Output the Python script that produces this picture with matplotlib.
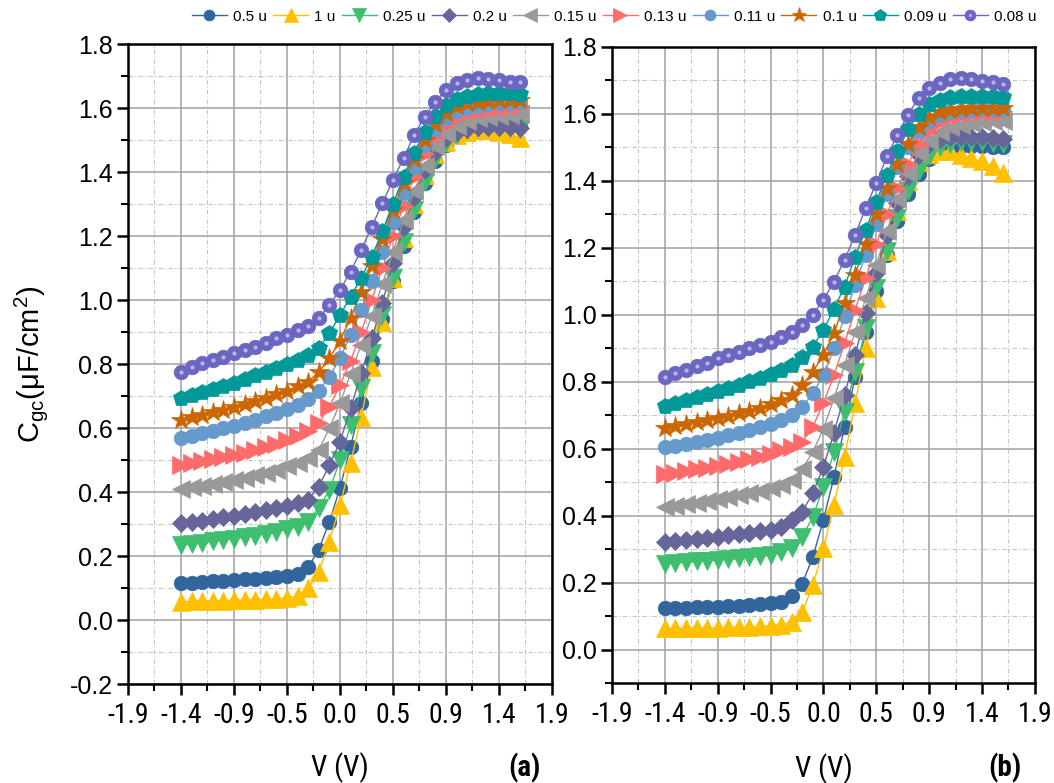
import matplotlib
matplotlib.use("Agg")
import matplotlib.pyplot as plt
from matplotlib import font_manager as fm
from matplotlib.ticker import FixedLocator, MultipleLocator, FormatStrFormatter
from matplotlib.legend_handler import HandlerTuple

# Gate voltage sweep (V)
V = [-1.425, -1.330, -1.235, -1.140, -1.045, -0.950, -0.855, -0.760, -0.665,
     -0.570, -0.475, -0.380, -0.285, -0.190, -0.095, 0.000, 0.095, 0.190,
     0.285, 0.380, 0.475, 0.570, 0.665, 0.760, 0.855, 0.950, 1.045, 1.140,
     1.235, 1.330, 1.425, 1.520, 1.615]

labels = ["0.5 u", "1 u", "0.25 u", "0.2 u", "0.15 u", "0.13 u", "0.11 u",
          "0.1 u", "0.09 u", "0.08 u"]
colors = ["#31659c", "#ffc000", "#3dbf6f", "#66669a", "#999999", "#ff6b6b",
          "#6699cc", "#cc6600", "#009999", "#6b66c0"]
markers = ["o", "^", "v", "D", "<", ">", "o", "*", "p", "o"]
msizes = [10.5, 13, 13, 9.5, 13, 13, 10.5, 15, 12, 10.5]

# Panel (a): gate-to-channel capacitance (uF/cm^2)
a_05u = [0.115, 0.117, 0.119, 0.121, 0.123, 0.125, 0.127, 0.129, 0.131, 0.134, 0.137, 0.145, 0.165,
         0.220, 0.307, 0.412, 0.542, 0.677, 0.810, 0.940, 1.060, 1.170, 1.275, 1.365, 1.435, 1.485,
         1.515, 1.532, 1.542, 1.547, 1.549, 1.549, 1.547]
a_1u = [0.057, 0.058, 0.059, 0.060, 0.061, 0.062, 0.063, 0.064, 0.065, 0.067, 0.069, 0.075, 0.099,
        0.151, 0.245, 0.359, 0.490, 0.635, 0.792, 0.930, 1.070, 1.195, 1.300, 1.390, 1.455, 1.495,
        1.515, 1.525, 1.530, 1.530, 1.526, 1.520, 1.505]
a_025u = [0.234, 0.238, 0.242, 0.246, 0.250, 0.254, 0.259, 0.264, 0.270, 0.276, 0.283, 0.292, 0.307,
          0.349, 0.406, 0.500, 0.609, 0.724, 0.833, 0.953, 1.070, 1.180, 1.280, 1.370, 1.440, 1.490,
          1.515, 1.530, 1.538, 1.540, 1.540, 1.538, 1.535]
a_02u = [0.302, 0.306, 0.311, 0.316, 0.321, 0.326, 0.332, 0.338, 0.344, 0.350, 0.357, 0.365, 0.375,
         0.417, 0.484, 0.557, 0.661, 0.771, 0.880, 0.990, 1.115, 1.229, 1.323, 1.406, 1.464, 1.505,
         1.525, 1.535, 1.540, 1.542, 1.542, 1.540, 1.538]
a_015u = [0.410, 0.415, 0.420, 0.426, 0.432, 0.438, 0.445, 0.453, 0.461, 0.470, 0.480, 0.491, 0.505,
          0.531, 0.599, 0.677, 0.770, 0.860, 0.950, 1.050, 1.150, 1.250, 1.340, 1.420, 1.480, 1.520,
          1.545, 1.560, 1.568, 1.573, 1.576, 1.578, 1.580]
a_013u = [0.484, 0.490, 0.496, 0.502, 0.509, 0.516, 0.523, 0.531, 0.540, 0.550, 0.561, 0.574, 0.590,
          0.615, 0.667, 0.734, 0.810, 0.900, 1.000, 1.100, 1.200, 1.295, 1.385, 1.455, 1.510, 1.548,
          1.570, 1.583, 1.591, 1.597, 1.600, 1.603, 1.606]
a_011u = [0.568, 0.575, 0.583, 0.591, 0.599, 0.607, 0.616, 0.626, 0.636, 0.647, 0.659, 0.672, 0.690,
          0.717, 0.760, 0.818, 0.890, 0.970, 1.060, 1.150, 1.245, 1.335, 1.415, 1.485, 1.535, 1.570,
          1.590, 1.600, 1.607, 1.612, 1.615, 1.617, 1.618]
a_01u = [0.625, 0.633, 0.641, 0.649, 0.657, 0.665, 0.674, 0.684, 0.694, 0.705, 0.717, 0.730, 0.745,
         0.775, 0.818, 0.872, 0.945, 1.025, 1.105, 1.190, 1.280, 1.365, 1.440, 1.500, 1.550, 1.585,
         1.605, 1.615, 1.620, 1.622, 1.624, 1.625, 1.625]
a_009u = [0.693, 0.702, 0.712, 0.722, 0.732, 0.742, 0.753, 0.765, 0.776, 0.788, 0.800, 0.813, 0.828,
          0.850, 0.896, 0.953, 1.010, 1.070, 1.135, 1.215, 1.300, 1.385, 1.460, 1.525, 1.575, 1.608,
          1.628, 1.638, 1.645, 1.648, 1.648, 1.647, 1.645]
a_008u = [0.776, 0.792, 0.802, 0.812, 0.823, 0.833, 0.844, 0.854, 0.865, 0.880, 0.890, 0.906, 0.920,
          0.943, 0.984, 1.031, 1.089, 1.156, 1.229, 1.302, 1.375, 1.443, 1.516, 1.573, 1.620, 1.656,
          1.677, 1.688, 1.693, 1.690, 1.688, 1.682, 1.680]

# Panel (b)
b_05u = [0.123, 0.124, 0.125, 0.126, 0.127, 0.128, 0.129, 0.131, 0.133, 0.135, 0.138, 0.143, 0.160,
         0.197, 0.277, 0.387, 0.516, 0.666, 0.815, 0.950, 1.070, 1.180, 1.280, 1.360, 1.420, 1.465,
         1.490, 1.500, 1.505, 1.505, 1.505, 1.502, 1.500]
b_1u = [0.063, 0.063, 0.064, 0.064, 0.065, 0.065, 0.066, 0.067, 0.068, 0.069, 0.071, 0.074, 0.083,
        0.112, 0.192, 0.302, 0.432, 0.576, 0.736, 0.900, 1.050, 1.190, 1.310, 1.400, 1.455, 1.480,
        1.490, 1.488, 1.478, 1.468, 1.458, 1.443, 1.425]
b_025u = [0.257, 0.259, 0.261, 0.263, 0.265, 0.267, 0.269, 0.272, 0.275, 0.278, 0.282, 0.290, 0.302,
          0.337, 0.397, 0.486, 0.591, 0.711, 0.830, 0.960, 1.080, 1.190, 1.290, 1.370, 1.430, 1.475,
          1.500, 1.510, 1.515, 1.515, 1.515, 1.512, 1.510]
b_02u = [0.322, 0.325, 0.328, 0.331, 0.334, 0.337, 0.341, 0.345, 0.349, 0.353, 0.358, 0.367, 0.387,
         0.411, 0.468, 0.546, 0.648, 0.760, 0.880, 1.005, 1.124, 1.239, 1.335, 1.415, 1.478, 1.510,
         1.525, 1.530, 1.532, 1.532, 1.530, 1.528, 1.525]
b_015u = [0.425, 0.429, 0.434, 0.439, 0.444, 0.449, 0.455, 0.461, 0.468, 0.475, 0.483, 0.493, 0.507,
          0.540, 0.590, 0.660, 0.750, 0.850, 0.950, 1.050, 1.150, 1.250, 1.345, 1.425, 1.482, 1.520,
          1.545, 1.560, 1.567, 1.572, 1.576, 1.578, 1.580]
b_013u = [0.524, 0.528, 0.533, 0.538, 0.543, 0.548, 0.554, 0.561, 0.568, 0.576, 0.585, 0.595, 0.606,
          0.621, 0.666, 0.736, 0.820, 0.915, 1.015, 1.110, 1.210, 1.300, 1.380, 1.450, 1.510, 1.550,
          1.575, 1.590, 1.598, 1.602, 1.605, 1.607, 1.610]
b_011u = [0.604, 0.609, 0.615, 0.621, 0.627, 0.633, 0.640, 0.648, 0.656, 0.665, 0.675, 0.687, 0.702,
          0.725, 0.765, 0.820, 0.900, 0.995, 1.090, 1.180, 1.270, 1.360, 1.440, 1.500, 1.550, 1.580,
          1.597, 1.605, 1.610, 1.612, 1.614, 1.615, 1.615]
b_01u = [0.661, 0.667, 0.673, 0.679, 0.685, 0.691, 0.698, 0.706, 0.714, 0.723, 0.733, 0.745, 0.760,
         0.790, 0.830, 0.880, 0.945, 1.035, 1.120, 1.210, 1.300, 1.380, 1.450, 1.510, 1.560, 1.590,
         1.605, 1.612, 1.615, 1.617, 1.618, 1.618, 1.618]
b_009u = [0.728, 0.736, 0.745, 0.754, 0.763, 0.772, 0.781, 0.791, 0.801, 0.812, 0.823, 0.835, 0.850,
          0.875, 0.905, 0.955, 1.018, 1.084, 1.174, 1.254, 1.338, 1.418, 1.490, 1.555, 1.600, 1.630,
          1.643, 1.650, 1.653, 1.655, 1.655, 1.654, 1.652]
b_008u = [0.813, 0.825, 0.835, 0.847, 0.857, 0.870, 0.880, 0.890, 0.900, 0.910, 0.920, 0.935, 0.950,
          0.970, 1.000, 1.045, 1.099, 1.164, 1.239, 1.319, 1.394, 1.473, 1.538, 1.598, 1.648, 1.678,
          1.693, 1.703, 1.708, 1.703, 1.697, 1.694, 1.690]

series_a = [a_05u, a_1u, a_025u, a_02u, a_015u, a_013u, a_011u, a_01u, a_009u, a_008u]
series_b = [b_05u, b_1u, b_025u, b_02u, b_015u, b_013u, b_011u, b_01u, b_009u, b_008u]

x_ticks = [-1.9, -1.425, -0.95, -0.475, 0.0, 0.475, 0.95, 1.425, 1.9]
x_minor = [-1.6625, -1.1875, -0.7125, -0.2375, 0.2375, 0.7125, 1.1875, 1.6625]
x_tick_labels = ["-1.9", "-1.4", "-0.9", "-0.5", "0.0", "0.5", "0.9", "1.4", "1.9"]

plt.rcParams["font.family"] = ["Liberation Sans", "DejaVu Sans"]
plt.rcParams["mathtext.fontset"] = "custom"
plt.rcParams["mathtext.rm"] = "Liberation Sans"
plt.rcParams["mathtext.it"] = "Liberation Sans"


def _weight(entry):
    w = entry.weight
    if isinstance(w, str):
        w = fm.weight_dict.get(w, 400)
    return w


def narrow_props(bold=False):
    """Pick a condensed sans face for the horizontal-axis texts if one is installed."""
    wanted = ["Liberation Sans Narrow", "Arial Narrow", "Roboto Condensed",
              "Open Sans Condensed", "Noto Sans Condensed"]
    for name in wanted:
        for e in fm.fontManager.ttflist:
            if e.name == name and e.style == "normal":
                w = _weight(e)
                if (bold and w >= 600) or (not bold and 350 <= w <= 500):
                    return fm.FontProperties(fname=e.fname), True
    return fm.FontProperties(family="Liberation Sans",
                             weight="bold" if bold else "normal"), False


narrow, is_narrow = narrow_props()
narrow_bold, _ = narrow_props(bold=True)
xtick_size = 20 if is_narrow else 17
xlabel_size = 21 if is_narrow else 18

fig = plt.figure(figsize=(10.54, 7.83), dpi=100)
ax_a = fig.add_axes([0.1214, 0.1264, 0.4023, 0.8174])
ax_b = fig.add_axes([0.5806, 0.1277, 0.4013, 0.8123])


def draw_panel(ax, series, ylim):
    handles = []
    for vals, lab, col, mk, ms in zip(series, labels, colors, markers, msizes):
        ln, = ax.plot(V, vals, color=col, lw=1.0, marker=mk, ms=ms, mfc=col,
                      mec=col, mew=0.5, label=lab, zorder=3)
        if lab == "0.08 u":
            # small sheen on the sphere-style markers
            hl, = ax.plot(V, vals, ls="none", marker="o", ms=3.0, mfc="#b9b6ec",
                          mec="none", zorder=3.1)
            handles.append((ln, hl))
        else:
            handles.append(ln)
    ax.set_xlim(-1.9, 1.9)
    ax.set_ylim(*ylim)
    ax.xaxis.set_major_locator(FixedLocator(x_ticks))
    ax.xaxis.set_minor_locator(FixedLocator(x_minor))
    ax.set_xticklabels(x_tick_labels, fontproperties=narrow)
    for lbl in ax.get_xticklabels():
        lbl.set_fontsize(xtick_size)
    ax.yaxis.set_major_locator(MultipleLocator(0.2))
    ax.yaxis.set_minor_locator(MultipleLocator(0.1))
    ax.yaxis.set_major_formatter(FormatStrFormatter("%.1f"))
    ax.tick_params(axis="y", labelsize=18)
    ax.tick_params(which="major", direction="out", length=8, width=1.8, pad=3)
    ax.tick_params(which="minor", direction="out", length=5, width=1.5)
    ax.tick_params(axis="x", which="major", pad=5)
    ax.grid(which="major", color="#a0a0a0", lw=1.1, ls="-", zorder=0)
    ax.grid(which="minor", color="#c4c4c4", lw=0.8, ls=(0, (4, 2, 1, 2)), zorder=0)
    ax.set_axisbelow(True)
    for sp in ax.spines.values():
        sp.set_linewidth(1.8)
        sp.set_color("black")
    ax.set_xlabel("V (V)", fontproperties=narrow)
    ax.xaxis.label.set_fontsize(xlabel_size)
    ax.xaxis.label.set_va("center")
    return handles


handles = draw_panel(ax_a, series_a, (-0.2, 1.8))
draw_panel(ax_b, series_b, (-0.1, 1.8))
ax_a.xaxis.set_label_coords(0.5, -0.131)
ax_b.xaxis.set_label_coords(0.5, -0.134)

ax_a.set_ylabel(r"C$_{\mathregular{gc}}$($\mathregular{\mu}$F/cm$^{\mathregular{2}}$)",
                fontsize=21, va="center")
ax_a.yaxis.set_label_coords(-0.228, 0.5)

for ax, tag, xf, yf in [(ax_a, "(a)", 0.936, -0.131), (ax_b, "(b)", 0.929, -0.134)]:
    t = ax.text(xf, yf, tag, transform=ax.transAxes, fontproperties=narrow_bold,
                ha="center", va="center")
    t.set_fontsize(xlabel_size)

fig.legend(handles, labels, loc="upper center", bbox_to_anchor=(0.5825, 1.005),
           ncol=10, frameon=False, fontsize=11, handlelength=2.3,
           handletextpad=0.4, columnspacing=0.4, markerscale=0.75,
           handler_map={tuple: HandlerTuple(ndivide=1, pad=0)})

fig.savefig("out.png", dpi=100)
